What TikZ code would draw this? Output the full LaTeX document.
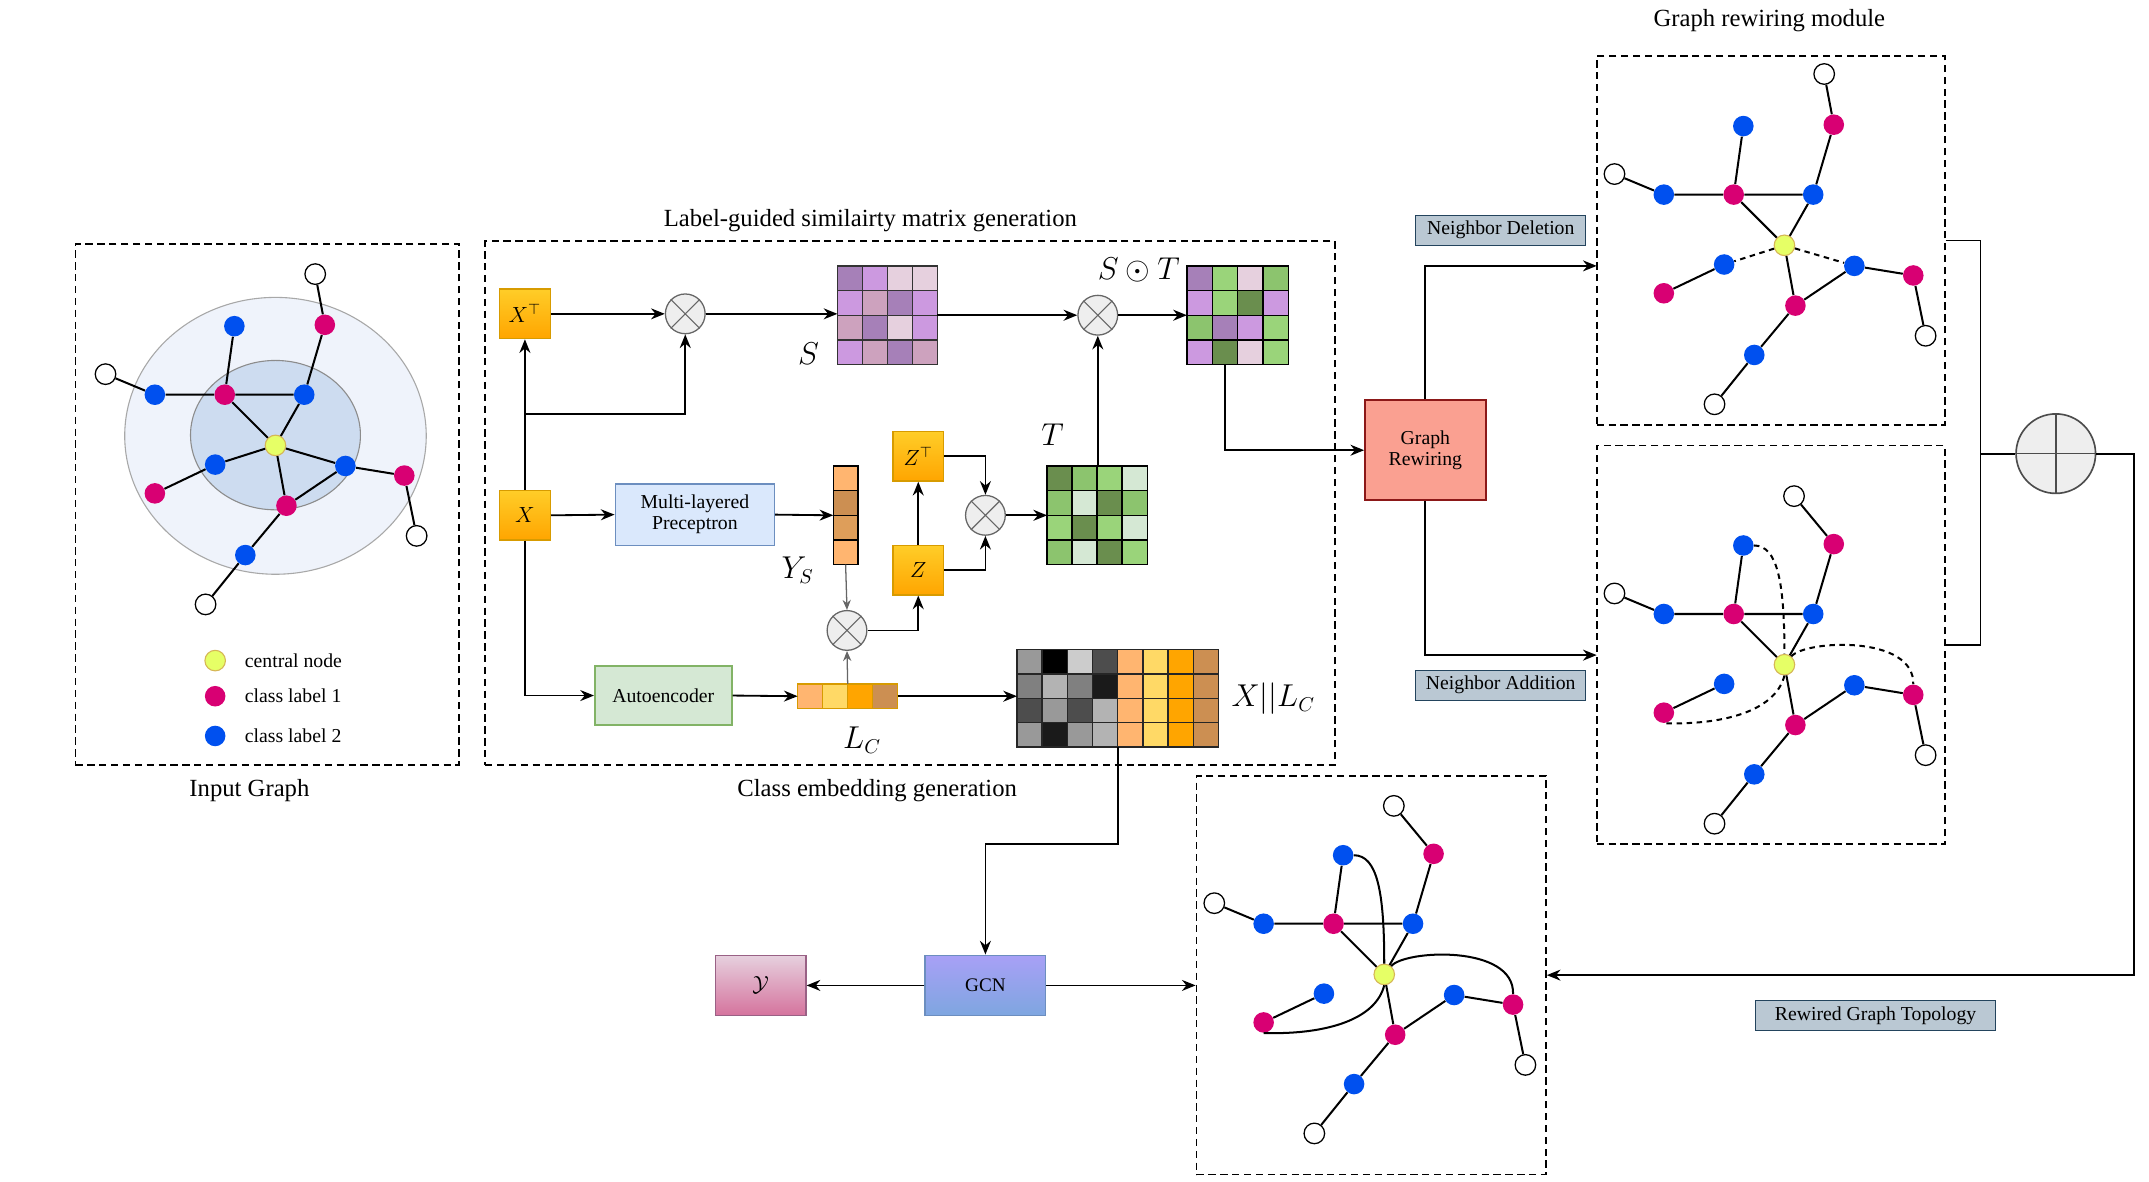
\documentclass[tikz,border=0pt]{standalone}
\usepackage{fontspec}
\setmainfont{Liberation Serif}
\usetikzlibrary{arrows.meta,calc}

% node colours of the graphs
\definecolor{cMag}{HTML}{D80073}
\definecolor{cBlu}{HTML}{0050EF}
\definecolor{cYel}{HTML}{E6FF66}
\definecolor{cYelB}{HTML}{D6B656}
% matrix cell colours
\definecolor{pDk}{HTML}{A680B8}
\definecolor{pVi}{HTML}{CC99E0}
\definecolor{pPa}{HTML}{E6D0DE}
\definecolor{pMa}{HTML}{CDA2BE}
\definecolor{gDk}{HTML}{6A8E4E}
\definecolor{gMd}{HTML}{8CC46E}
\definecolor{gLt}{HTML}{9AD47A}
\definecolor{gPa}{HTML}{D5E8D4}
\definecolor{kA}{HTML}{999999}
\definecolor{kB}{HTML}{000000}
\definecolor{kC}{HTML}{CCCCCC}
\definecolor{kD}{HTML}{4D4D4D}
\definecolor{kE}{HTML}{808080}
\definecolor{kF}{HTML}{B3B3B3}
\definecolor{kG}{HTML}{1A1A1A}
\definecolor{oA}{HTML}{FFB570}
\definecolor{oB}{HTML}{FFD966}
\definecolor{oC}{HTML}{FFA500}
\definecolor{oD}{HTML}{CC8F52}
\definecolor{oE}{HTML}{DE9E5A}
% box colours
\definecolor{oTop}{HTML}{FFCD28}
\definecolor{oBot}{HTML}{FFA500}
\definecolor{oBrd}{HTML}{D79B00}
\definecolor{mlpF}{HTML}{DAE8FC}
\definecolor{mlpB}{HTML}{6C8EBF}
\definecolor{aeF}{HTML}{D5E8D4}
\definecolor{aeB}{HTML}{82B366}
\definecolor{grF}{HTML}{FAA091}
\definecolor{grB}{HTML}{8C1818}
\definecolor{yTop}{HTML}{E6D0DE}
\definecolor{yBot}{HTML}{D5739D}
\definecolor{yBrd}{HTML}{996185}
\definecolor{gcTop}{HTML}{A8A0F6}
\definecolor{gcBot}{HTML}{7EA6E0}
\definecolor{tagF}{HTML}{BAC8D3}
\definecolor{tagB}{HTML}{23445D}
\definecolor{elOF}{HTML}{EFF3FB}
\definecolor{elOB}{HTML}{A8A8A8}
\definecolor{elIF}{HTML}{CDDCF0}
\definecolor{elIB}{HTML}{8C8C8C}
\definecolor{otF}{HTML}{EEEEEE}
\definecolor{otB}{HTML}{666666}

% coloured cells of a matrix node: node, columns, cell width, cell height, border, fills
\newcommand\mgrid[6]{%
  \foreach \cc [count=\k from 0] in {#6} {
    \pgfmathtruncatemacro\gridrow{floor(\k/#2)}
    \pgfmathtruncatemacro\gridcol{mod(\k,#2)}
    \filldraw[fill=\cc, draw=#5, line width=0.7pt]
      ($(#1.north west)+(\gridcol*#3,\gridrow*#4)$) rectangle ++(#3,#4);
  }
}
% product symbol
\newcommand\otimesnode[2]{%
  \node[otim] (#1) at (#2) {};
  \draw[otB, line width=0.6pt] (#1.north west)--(#1.south east) (#1.north east)--(#1.south west);
}
% the sixteen vertices of a graph, around the central node
\newcommand\gnodes[1]{%
  \node[wn] (wt) at (#1) {};
  \node[mn] (mt) at (36,-88) {};
  \node[bn] (bt) at (-30,-87) {};
  \node[wn] (wl) at (-124,-52) {};
  \node[bn] (bl) at (-88,-37) {};
  \node[mn] (mm) at (-37,-37) {};
  \node[bn] (bm) at (21,-37) {};
  \node[bn] (bll) at (-44,14) {};
  \node[mn] (mll) at (-88,35) {};
  \node[bn] (br) at (51,15) {};
  \node[mn] (mr) at (94,22) {};
  \node[wn] (wr) at (103,66) {};
  \node[mn] (mb) at (8,44) {};
  \node[bn] (bb) at (-22,80) {};
  \node[wn] (wb) at (-51,116) {};
  \node[yn] (c) at (0,0) {};
}
\newcommand\gedges{%
  \draw[gedge] (wt)--(mt) (mt)--(bm) (bt)--(mm) (wl)--(bl) (bl)--(mm) (mm)--(bm)
    (mm)--(c) (bm)--(c) (bll)--(mll) (br)--(mr) (mr)--(wr) (c)--(mb) (mb)--(br)
    (mb)--(bb) (bb)--(wb);
}

\begin{document}
\begin{tikzpicture}[x=0.75pt, y=-0.75pt,
  sz/.style 2 args={minimum width=#1*0.75pt, minimum height=#2*0.75pt},
  arr/.style={-{Stealth[length=7.5pt,width=6pt]}, line width=1pt},
  thinarr/.style={-{Stealth[length=5.5pt,width=4.5pt]}, line width=0.7pt, draw=black!60, color=black!60},
  ln/.style={line width=1pt},
  dbox/.style={draw, dash pattern=on 4pt off 2.5pt, line width=0.9pt, inner sep=0},
  small/.style={font=\fontsize{10.8}{12.5}\selectfont},
  title/.style={font=\fontsize{13.5}{15}\selectfont},
  mlab/.style={font=\fontsize{16}{18}\selectfont, inner sep=0},
  obox/.style={sz={37}{36}, top color=oTop, bottom color=oBot, draw=oBrd, line width=0.8pt,
    inner sep=0, font=\fontsize{12}{14}\selectfont},
  mat/.style={inner sep=0, outer sep=0},
  otim/.style={circle, minimum size=29*0.75pt, inner sep=0, fill=otF, draw=otB, line width=0.7pt},
  tag/.style={small, fill=tagF, draw=tagB, line width=0.7pt, sz={124}{22}, inner sep=0},
  vtx/.style={circle, minimum size=15*0.75pt, inner sep=0},
  mn/.style={vtx, fill=cMag},
  bn/.style={vtx, fill=cBlu},
  yn/.style={vtx, fill=cYel, draw=cYelB, line width=0.6pt},
  wn/.style={vtx, fill=white, draw=black, line width=0.7pt},
  gedge/.style={line width=1.1pt},
  dedge/.style={line width=1.1pt, dash pattern=on 3pt off 2.5pt},
]
\useasboundingbox (0,0) rectangle (1568,862);

% ---------------- frames and titles ----------------
\node[dbox, sz={280}{380}] (boxI) at (195,368) {};
\node[dbox, sz={620}{382}] (boxL) at (664,367) {};
\node[dbox, sz={254}{269}] (boxD) at (1292,175.5) {};
\node[dbox, sz={254}{291}] (boxA) at (1292,470.5) {};
\node[dbox, sz={255}{291}] (boxR) at (1000.5,711.5) {};

\node[title] (tI) at (182,577) {Input Graph};
\node[title] (tL) at (635,161) {Label-guided similairty matrix generation};
\node[title] (tC) at (640,577) {Class embedding generation};
\node[title] (tG) at (1291,15) {Graph rewiring module};

% ---------------- input graph ----------------
\begin{scope}[shift={(201,325)}, name prefix=gi-]
  \draw[fill=elOF, draw=elOB, line width=0.6pt] (0,-7) ellipse [x radius=110, y radius=101];
  \draw[fill=elIF, draw=elIB, line width=0.6pt] (0,-7.5) ellipse [x radius=62, y radius=54.5];
  \gnodes{29,-125}
  \gedges
  \draw[gedge] (c)--(bll) (c)--(br);
\end{scope}

\node[yn] (lg1) at (157,482) {};
\node[mn] (lg2) at (157,508) {};
\node[bn] (lg3) at (157,537) {};
\node[small, anchor=west] (lg1t) at (174,482) {central node};
\node[small, anchor=west] (lg2t) at (174,508) {class label 1};
\node[small, anchor=west] (lg3t) at (174,537) {class label 2};

% ---------------- similarity and class embedding ----------------
\node[obox] (XT) at (383,229) {$X^{\top}$};
\node[obox] (X) at (383,376) {$X$};
\node[obox] (ZT) at (670,333) {$Z^{\top}$};
\node[obox] (Z) at (670,416) {$Z$};
\node[small, sz={116}{45}, fill=mlpF, draw=mlpB, line width=0.9pt, align=center, inner sep=0]
  (MLP) at (507,375.5) {Multi-layered\\[-1pt]Preceptron};
\node[small, sz={100}{43}, fill=aeF, draw=aeB, line width=0.9pt, inner sep=0]
  (AE) at (484,507.5) {Autoencoder};

\node[mat, sz={73}{72}] (S) at (647.5,230) {};
\node[mat, sz={73}{72}] (T) at (800.5,376) {};
\node[mat, sz={74}{72}] (SoT) at (903,230) {};
\node[mat, sz={18}{72}] (YS) at (617,376) {};
\node[mat, sz={73}{18}] (LC) at (618.5,508) {};
\node[mat, sz={147}{71}] (XLC) at (815.5,509.5) {};

\mgrid{S}{4}{18.25}{18}{black!80}{pDk,pVi,pPa,pPa, pVi,pMa,pDk,pVi, pMa,pDk,pPa,pVi, pVi,pMa,pDk,pMa}
\mgrid{T}{4}{18.25}{18}{black}{gDk,gMd,gLt,gPa, gMd,gPa,gDk,gMd, gLt,gDk,gLt,gPa, gMd,gPa,gDk,gLt}
\mgrid{SoT}{4}{18.5}{18}{black}{pDk,gLt,pPa,gMd, pVi,gLt,gDk,pVi, gMd,pDk,pVi,gLt, pVi,gDk,pPa,gLt}
\mgrid{YS}{1}{18}{18}{black}{oA,oD,oE,oA}
\mgrid{LC}{4}{18.25}{18}{oBrd}{oA,oB,oC,oD}
\mgrid{XLC}{8}{18.375}{17.75}{black!85}{kA,kB,kC,kD,oA,oB,oC,oD, kE,kF,kE,kG,oA,oB,oC,oD,
  kD,kA,kD,kF,oA,oB,oC,oD, kA,kG,kA,kF,oA,oB,oC,oD}

\node[mlab] (lS) at (590,258) {$S$};
\node[mlab] (lT) at (768,317) {$T$};
\node[mlab] (lSoT) at (831,197) {$S\odot T$};
\node[mlab] (lYS) at (582,416) {$Y_S$};
\node[mlab] (lLC) at (629,540) {$L_C$};
\node[mlab] (lXLC) at (929,510) {$X||L_C$};

\otimesnode{o1}{500,229}
\otimesnode{o2}{801,230}
\otimesnode{o3}{719,376}
\otimesnode{o4}{618,460}

\coordinate (xb) at (383,302);
\draw[arr] (X.north) -- (XT.south);
\draw[arr] (xb) -| (o1.south);
\draw[arr] (XT.east) -- (o1.west);
\draw[arr] (o1.east) -- (o1.east -| S.west);
\draw[arr] (S.east |- o2.west) -- (o2.west);
\draw[arr] (o2.east) -- (o2.east -| SoT.west);
\draw[arr] (T.north -| o2.south) -- (o2.south);
\draw[arr] (X.east) -- (MLP.west);
\draw[arr] (MLP.east) -- (YS.west);
\draw[thinarr] (YS.south) -- (o4.north);
\draw[thinarr] (LC.north) -- (o4.south);
\draw[arr] (o4.east) -| (Z.south);
\draw[arr] (Z.north) -- (ZT.south);
\draw[arr] (ZT.east) -| (o3.north);
\draw[arr] (Z.east) -| (o3.south);
\draw[arr] (o3.east) -- (T.west);
\draw[arr] (X.south) |- (AE.west);
\draw[arr] (AE.east) -- (LC.west);
\draw[arr] (LC.east) -- (LC.east -| XLC.west);

% ---------------- rewiring ----------------
\node[small, sz={88}{73}, fill=grF, draw=grB, line width=1pt, align=center, inner sep=0]
  (GR) at (1040,328.5) {Graph\\[-1pt]Rewiring};
\node[tag] (ND) at (1095,168) {Neighbor Deletion};
\node[tag] (NA) at (1095,500) {Neighbor Addition};
\node[tag, sz={175}{22}] (RGT) at (1368.5,741) {Rewired Graph Topology};

\draw[arr] ($(SoT.south)+(-9,0)$) |- (GR.west);
\coordinate (dIn) at (1165,194);
\coordinate (aIn) at (1165,478);
\draw[arr] (GR.north) |- (dIn);
\draw[arr] (GR.south) |- (aIn);

% deletion graph
\begin{scope}[shift={(1302,179)}, name prefix=gd-]
  \gnodes{29,-125}
  \gedges
  \draw[dedge] (c)--(bll) (c)--(br);
\end{scope}

% addition graph
\begin{scope}[shift={(1302,485)}, name prefix=ga-]
  \gnodes{7,-123}
  \gedges
  \draw[dedge] (bt.east) .. controls (-5,-87) and (0,-60) .. (c.north);
  \draw[dedge] (c) .. controls (15,-18) and (95,-22) .. (mr.north);
  \draw[dedge] (c.south) .. controls (-6,32) and (-40,44) .. (mll.south);
\end{scope}

% rewired graph
\begin{scope}[shift={(1010,711)}, name prefix=gr-]
  \gnodes{7,-123}
  \gedges
  \draw[gedge] (bt.east) .. controls (-5,-87) and (0,-60) .. (c.north);
  \draw[gedge] (c) .. controls (15,-18) and (95,-22) .. (mr.north);
  \draw[gedge] (c.south) .. controls (-6,32) and (-40,44) .. (mll.south);
\end{scope}

% merging of the two rewired graphs
\node[circle, minimum size=58*0.75pt, inner sep=0, fill=otF, draw=black!70, line width=0.9pt]
  (op) at (1500,331) {};
\draw[black!70, line width=0.8pt] (op.north)--(op.south) (op.west)--(op.east);
\coordinate (mj) at (1445,331);
\coordinate (mk) at (1557,331);
\draw[ln] (boxD.east) -- (boxD.east -| mj) -- (boxA.east -| mj) -- (boxA.east);
\draw[ln] (mj) -- (op.west);
\draw[arr] (op.east) -- (mk) |- (boxR.east);

% ---------------- classification ----------------
\node[small, sz={88}{44}, top color=gcTop, bottom color=gcBot, draw=mlpB, line width=0.8pt,
  inner sep=0, font=\fontsize{10.5}{12}\selectfont] (GCN) at (719,719) {GCN};
\node[sz={66}{44}, top color=yTop, bottom color=yBot, draw=yBrd, line width=0.8pt,
  inner sep=0, font=\fontsize{13}{15}\selectfont] (Y) at (555,719) {$\mathcal{Y}$};
\coordinate (gk) at (719,616);
\draw[arr] (XLC.south) |- (gk) -- (GCN.north);
\draw[arr] (GCN.west) -- (Y.east);
\draw[arr] (GCN.east) -- (GCN.east -| boxR.west);

\end{tikzpicture}
\end{document}
